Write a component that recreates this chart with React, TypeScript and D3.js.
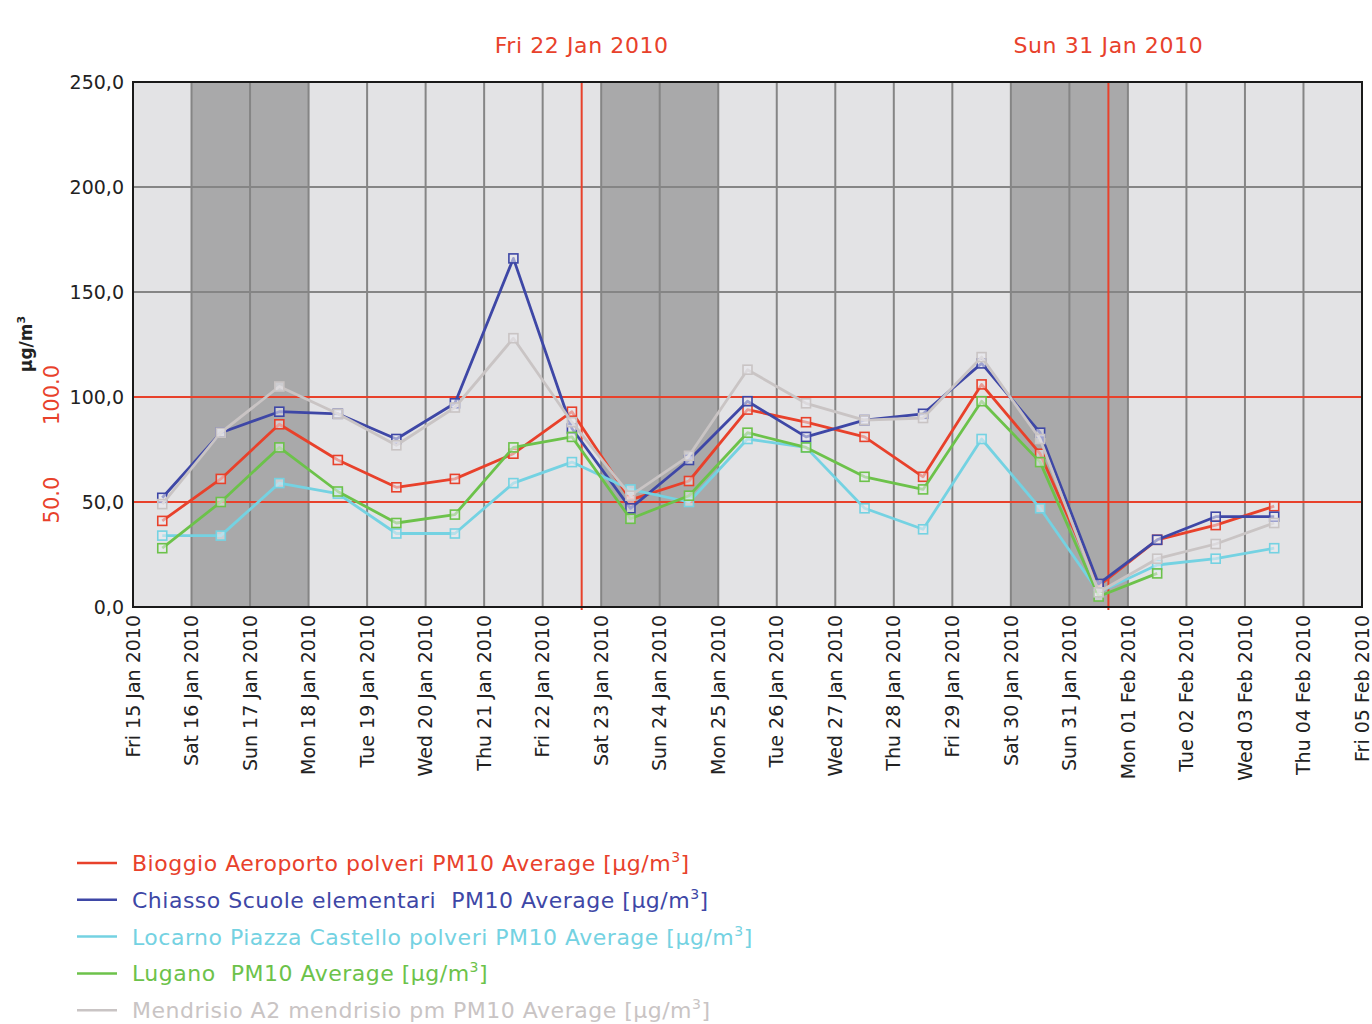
import * as d3 from 'd3'
import { useEffect, useRef } from 'react'

// days shown on the x axis (one tick per midnight)
const days: string[] = [
    '2010-01-15', '2010-01-16', '2010-01-17', '2010-01-18', '2010-01-19', '2010-01-20', '2010-01-21',
    '2010-01-22', '2010-01-23', '2010-01-24', '2010-01-25', '2010-01-26', '2010-01-27', '2010-01-28',
    '2010-01-29', '2010-01-30', '2010-01-31', '2010-02-01', '2010-02-02', '2010-02-03', '2010-02-04',
    '2010-02-05'
]

// daily averages, plotted at noon of each day
const bioggio = [41, 61, 87, 70, 57, 61, 73, 93, 51, 60, 94, 88, 81, 62, 106, 73, 10, 32, 39, 48]
const chiasso = [52, 83, 93, 92, 80, 97, 166, 85, 47, 70, 98, 81, 89, 92, 116, 83, 11, 32, 43, 43]
const locarno = [34, 34, 59, 54, 35, 35, 59, 69, 56, 50, 80, 76, 47, 37, 80, 47, 7, 20, 23, 28]
const lugano = [28, 50, 76, 55, 40, 44, 76, 81, 42, 53, 83, 76, 62, 56, 98, 69, 5, 16]
const mendrisio = [49, 83, 105, 92, 77, 95, 128, 88, 53, 72, 113, 97, 89, 90, 119, 80, 7, 23, 30, 40]

const seriesNames = [
    'Bioggio Aeroporto polveri PM10 Average',
    'Chiasso Scuole elementari  PM10 Average',
    'Locarno Piazza Castello polveri PM10 Average',
    'Lugano  PM10 Average',
    'Mendrisio A2 mendrisio pm PM10 Average'
]
const seriesValues = [bioggio, chiasso, locarno, lugano, mendrisio]
const seriesColors = ['#e8412b', '#3e47a6', '#74d2e2', '#6cc24a', '#c9c4c4']

const yTicks = [0, 50, 100, 150, 200, 250]
const thresholds = [50, 100]
// event markers (date + hour)
const events = [
    { date: '2010-01-22', hour: 16, label: 'Fri 22 Jan 2010' },
    { date: '2010-01-31', hour: 16, label: 'Sun 31 Jan 2010' }
]

const parse = (s: string, h = 0) => {
    const [y, m, d] = s.split('-').map(Number)
    return new Date(y, m - 1, d, h)
}

const FONT = '"DejaVu Sans", sans-serif'

const App = () => {
    const ref = useRef<SVGSVGElement>(null)

    useEffect(() => {
        const svg = d3.select(ref.current)
        svg.selectAll('*').remove()

        const margin = { top: 82, left: 133, right: 10, bottom: 417 }
        const width = 1372
        const height = 1024

        const dayDates = days.map(d => parse(d))
        const x = d3.scaleTime()
            .domain([dayDates[0], dayDates[dayDates.length - 1]])
            .range([margin.left, width - margin.right])
        const y = d3.scaleLinear()
            .domain([0, 250])
            .range([height - margin.bottom, margin.top])

        const plot = svg.append('g')

        // background
        plot.append('rect')
            .attr('x', x.range()[0]).attr('y', y(250))
            .attr('width', x.range()[1] - x.range()[0])
            .attr('height', y(0) - y(250))
            .attr('fill', '#e3e3e5')

        // weekends shaded
        dayDates.slice(0, -1).forEach((d, i) => {
            const wd = d.getDay()
            if (wd === 0 || wd === 6) {
                plot.append('rect')
                    .attr('x', x(d)).attr('y', y(250))
                    .attr('width', x(dayDates[i + 1]) - x(d))
                    .attr('height', y(0) - y(250))
                    .attr('fill', '#a9a9aa')
            }
        })

        // grid
        plot.selectAll('.vgrid')
            .data(dayDates.slice(1, -1))
            .enter().append('line')
            .attr('x1', d => x(d)).attr('x2', d => x(d))
            .attr('y1', y(250)).attr('y2', y(0))
            .attr('stroke', '#858585').attr('stroke-width', 2)
        plot.selectAll('.hgrid')
            .data(yTicks.slice(1, -1))
            .enter().append('line')
            .attr('x1', x.range()[0]).attr('x2', x.range()[1])
            .attr('y1', d => y(d)).attr('y2', d => y(d))
            .attr('stroke', '#858585').attr('stroke-width', 2)

        // thresholds and events
        thresholds.forEach(t => {
            plot.append('line')
                .attr('x1', x.range()[0]).attr('x2', x.range()[1])
                .attr('y1', y(t)).attr('y2', y(t))
                .attr('stroke', '#e8412b').attr('stroke-width', 2)
        })
        events.forEach(e => {
            const ex = x(parse(e.date, e.hour))
            plot.append('line')
                .attr('x1', ex).attr('x2', ex)
                .attr('y1', y(250)).attr('y2', y(0) + 3)
                .attr('stroke', '#e8412b').attr('stroke-width', 2)
            svg.append('text')
                .attr('x', ex).attr('y', 53)
                .attr('text-anchor', 'middle')
                .attr('fill', '#e8412b')
                .style('font', `22px ${FONT}`)
                .style('letter-spacing', '0.6px')
                .text(e.label)
        })

        // frame
        plot.append('rect')
            .attr('x', x.range()[0]).attr('y', y(250))
            .attr('width', x.range()[1] - x.range()[0])
            .attr('height', y(0) - y(250))
            .attr('fill', 'none')
            .attr('stroke', '#1a1a1a').attr('stroke-width', 2)

        // series
        const line = d3.line<number>()
            .x((_, i) => x(parse(days[i], 12)))
            .y(d => y(d))

        seriesValues.forEach((vals, k) => {
            const g = svg.append('g')
            g.append('path')
                .datum(vals)
                .attr('fill', 'none')
                .attr('stroke', seriesColors[k])
                .attr('stroke-width', 2.8)
                .attr('stroke-linejoin', 'round')
                .attr('d', line)
            g.selectAll('rect')
                .data(vals)
                .enter().append('rect')
                .attr('x', (_, i) => x(parse(days[i], 12)) - 4.5)
                .attr('y', d => y(d) - 4.5)
                .attr('width', 9).attr('height', 9)
                .attr('fill', 'rgba(235,235,240,0.55)')
                .attr('stroke', seriesColors[k])
                .attr('stroke-width', 1.6)
        })

        // y axis labels
        svg.selectAll('.ytick')
            .data(yTicks)
            .enter().append('text')
            .attr('x', 124).attr('y', d => y(d) + 7)
            .attr('text-anchor', 'end')
            .attr('fill', '#222')
            .style('font', `19px ${FONT}`)
            .text(d => d3.format('.1f')(d).replace('.', ','))

        // x axis labels
        const fmt = d3.timeFormat('%a %d %b %Y')
        svg.selectAll('.xtick')
            .data(dayDates)
            .enter().append('text')
            .attr('transform', d => `translate(${x(d)},615) rotate(-90)`)
            .attr('dy', '0.35em')
            .attr('text-anchor', 'end')
            .attr('fill', '#222')
            .style('font', `19px ${FONT}`)
            .text(d => fmt(d))

        // left unit + threshold labels
        svg.append('text')
            .attr('transform', 'translate(32,344) rotate(-90)')
            .attr('text-anchor', 'middle')
            .attr('fill', '#222')
            .style('font', `bold 17px ${FONT}`)
            .html('μg/m<tspan dy="-7" font-size="11">3</tspan>')
        thresholds.forEach(t => {
            svg.append('text')
                .attr('transform', `translate(59,${y(t) - 2}) rotate(-90)`)
                .attr('text-anchor', 'middle')
                .attr('fill', '#e8412b')
                .style('font', `21px ${FONT}`)
                .text(d3.format('.1f')(t))
        })

        // legend
        seriesNames.forEach((name, k) => {
            const ly = 863 + k * 36.8
            svg.append('line')
                .attr('x1', 77).attr('x2', 117)
                .attr('y1', ly).attr('y2', ly)
                .attr('stroke', seriesColors[k]).attr('stroke-width', 2.5)
            svg.append('text')
                .attr('x', 132).attr('y', ly + 8)
                .attr('fill', seriesColors[k])
                .style('font', `22px ${FONT}`)
                .style('letter-spacing', '0.5px')
                .style('white-space', 'pre')
                .html(`${name} [μg/m<tspan dy="-9" font-size="14">3</tspan><tspan dy="9">]</tspan>`)
        })
    }, [])

    return (
        <svg ref={ref} width={1372} height={1024}
            style={{ position: 'absolute', left: 0, top: 0, background: '#fff' }} />
    )
}

export default App
